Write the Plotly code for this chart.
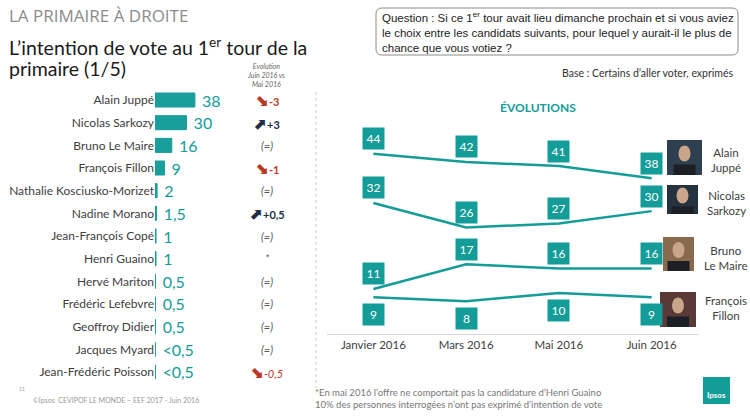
import plotly.graph_objects as go

# intentions de vote 1er tour primaire droite - juin 2016
candidats = ["Alain Juppé", "Nicolas Sarkozy", "Bruno Le Maire", "François Fillon",
             "Nathalie Kosciusko-Morizet", "Nadine Morano", "Jean-François Copé",
             "Henri Guaino", "Hervé Mariton", "Frédéric Lefebvre", "Geoffroy Didier",
             "Jacques Myard", "Jean-Frédéric Poisson"]
intentions = [38, 30, 16, 9, 2, 1.5, 1, 1, 0.5, 0.5, 0.5, 0.3, 0.3]
intentions_txt = ["38", "30", "16", "9", "2", "1,5", "1", "1", "0,5", "0,5", "0,5", "<0,5", "<0,5"]
evolution_txt = ["-3", "+3", "(=)", "-1", "(=)", "+0,5", "(=)", "*", "(=)", "(=)", "(=)", "(=)", "-0,5"]

# evolutions
mois = ["Janvier 2016", "Mars 2016", "Mai 2016", "Juin 2016"]
juppe = [44, 42, 41, 38]
sarkozy = [32, 26, 27, 30]
le_maire = [11, 17, 16, 16]
fillon = [9, 8, 10, 9]

TEAL = "#149c99"
GREY = "#404040"
W, H = 750, 417


def px(x):
    return x / W


def py(y):
    return 1 - y / H


fig = go.Figure()

rows = list(range(len(candidats)))
fig.add_trace(go.Bar(
    x=intentions, y=rows, orientation="h",
    marker=dict(color="#1a9e9c", line=dict(color="#1a9e9c", width=1)),
    width=0.62,
    text=["\u00a0" + t for t in intentions_txt], textposition="outside",
    cliponaxis=False, constraintext="none",
    textfont=dict(family="Lato", size=16, color=TEAL),
    xaxis="x", yaxis="y", showlegend=False, hoverinfo="skip"
))

series = [("Alain Juppé", juppe, 15), ("Nicolas Sarkozy", sarkozy, 15),
          ("Bruno Le Maire", le_maire, 15), ("François Fillon", fillon, -17)]
for nom, vals, dy in series:
    fig.add_trace(go.Scatter(
        x=list(range(len(mois))), y=vals, mode="lines",
        line=dict(color=TEAL, width=2.5),
        xaxis="x2", yaxis="y2", showlegend=False, name=nom
    ))

annotations = []
shapes = []

# boites des valeurs sur les courbes
for nom, vals, dy in series:
    for i, v in enumerate(vals):
        annotations.append(dict(
            x=i, y=v, xref="x2", yref="y2", text=str(v),
            yshift=dy, width=19, height=19, bgcolor=TEAL,
            font=dict(family="Lato", size=12, color="white")
        ))

# colonne evolution
baisse = "<span style='font-size:15px'>⬊</span>"
hausse = "<span style='font-size:15px'>⬈</span>"
for i, t in enumerate(evolution_txt):
    if t.startswith("-"):
        txt = "<b>" + baisse + t + "</b>"
        if i == len(evolution_txt) - 1:
            txt = "<b>" + baisse + "</b><i>" + t + "</i>"
        col = "#b83a26"
    elif t.startswith("+"):
        txt = "<b>" + hausse + t + "</b>"
        col = "#1f2d45"
    else:
        txt = "<i>" + t + "</i>"
        col = "#555555"
    annotations.append(dict(x=px(267), y=i, xref="paper", yref="y", text=txt,
                            font=dict(family="Lato", size=11, color=col)))

annotations.append(dict(x=px(266), y=py(75), text="<i>Evolution<br>Juin 2016 vs<br>Mai 2016</i>",
                        font=dict(family="Lato", size=7, color="#666666")))

# titres
annotations += [
    dict(x=px(7), y=py(16), text="LA PRIMAIRE À DROITE", xanchor="left",
         font=dict(family="Open Sans", size=17, color="#8c8c8c")),
    dict(x=px(7), y=py(47), text="L’intention de vote au 1<sup>er</sup> tour de la", xanchor="left",
         font=dict(family="Lato", size=19.5, color="#1a1a1a")),
    dict(x=px(7), y=py(69), text="primaire (1/5)", xanchor="left",
         font=dict(family="Lato", size=19.5, color="#1a1a1a")),
    dict(x=px(380), y=py(32), xanchor="left", align="left",
         text="Question : Si ce 1<sup>er</sup> tour avait lieu dimanche prochain et si vous aviez<br>"
              "le choix entre les candidats suivants, pour lequel y aurait-il le plus de<br>"
              "chance que vous votiez ?",
         font=dict(family="Liberation Sans", size=11.5, color="#222222")),
    dict(x=px(735), y=py(73), xanchor="right", text="Base : Certains d’aller voter, exprimés",
         font=dict(family="Lato", size=10.5, color="#333333")),
    dict(x=px(538), y=py(108), text="<b>ÉVOLUTIONS</b>",
         font=dict(family="Lato", size=12, color=TEAL)),
    dict(x=px(313), y=py(398), xanchor="left", align="left",
         text="*En mai 2016 l’offre ne comportait pas la candidature d’Henri Guaino<br>"
              "10% des personnes interrogées n’ont pas exprimé d’intention de vote",
         font=dict(family="Lato", size=9.5, color="#777777")),
    dict(x=px(31), y=py(400), xanchor="left",
         text="©Ipsos  CEVIPOF LE MONDE – EEF 2017 - Juin 2016",
         font=dict(family="Lato", size=7, color="#999999")),
    dict(x=px(17), y=py(389), xanchor="left", text="11",
         font=dict(family="Lato", size=5, color="#999999")),
    dict(x=px(716.5), y=py(395), text="<b>Ipsos</b>",
         font=dict(family="Lato", size=8, color="white")),
]

# noms a cote des photos
for nom, y in [("Alain<br>Juppé", 160), ("Nicolas<br>Sarkozy", 203),
               ("Bruno<br>Le Maire", 258), ("François<br>Fillon", 308)]:
    annotations.append(dict(x=px(726), y=py(y), text=nom,
                            font=dict(family="Lato", size=11.5, color=GREY)))

for a in annotations:
    a.setdefault("xref", "paper")
    a.setdefault("yref", "paper")
    a.setdefault("xanchor", "center")
    a.setdefault("yanchor", "middle")
    a["showarrow"] = False

# photos (simples aplats)
photos = [(667, 140, 702, 175, "#2e3f4f"), (667, 185, 698, 214, "#27323f"),
          (663, 237, 694, 271, "#8a6a4c"), (660, 292, 696, 327, "#5a3a36")]
for x0, y0, x1, y1, c in photos:
    shapes.append(dict(type="rect", xref="paper", yref="paper", x0=px(x0), x1=px(x1),
                       y0=py(y1), y1=py(y0), fillcolor=c, line=dict(width=0)))
    cx, cy = (x0 + x1) / 2, (y0 + y1) / 2
    shapes.append(dict(type="circle", xref="paper", yref="paper", x0=px(cx - 6), x1=px(cx + 6),
                       y0=py(cy + 4), y1=py(cy - 12), fillcolor="#c9a58c", line=dict(width=0)))
    shapes.append(dict(type="rect", xref="paper", yref="paper", x0=px(cx - 11), x1=px(cx + 11),
                       y0=py(y1), y1=py(cy + 7), fillcolor="#1c1f26", line=dict(width=0)))

# boite question
x0, x1, y0, y1, r = 376, 738, 8, 55, 6
path = (f"M {px(x0 + r)},{py(y0)} L {px(x1 - r)},{py(y0)} Q {px(x1)},{py(y0)} {px(x1)},{py(y0 + r)} "
        f"L {px(x1)},{py(y1 - r)} Q {px(x1)},{py(y1)} {px(x1 - r)},{py(y1)} "
        f"L {px(x0 + r)},{py(y1)} Q {px(x0)},{py(y1)} {px(x0)},{py(y1 - r)} "
        f"L {px(x0)},{py(y0 + r)} Q {px(x0)},{py(y0)} {px(x0 + r)},{py(y0)} Z")
shapes.append(dict(type="path", xref="paper", yref="paper", path=path,
                   line=dict(color="#8a8a8a", width=1)))

# separateur pointille
shapes.append(dict(type="line", xref="paper", yref="paper", x0=px(316), x1=px(316),
                   y0=py(92), y1=py(388), line=dict(color="#c8c8c8", width=1, dash="dot")))

# logo ipsos
shapes.append(dict(type="rect", xref="paper", yref="paper", x0=px(703), x1=px(730),
                   y0=py(404), y1=py(377), fillcolor=TEAL, line=dict(width=0)))

fig.update_layout(
    width=W, height=H, margin=dict(l=0, r=0, t=0, b=0),
    paper_bgcolor="white", plot_bgcolor="white",
    font=dict(family="Lato", color=GREY),
    xaxis=dict(domain=[px(155), px(260)], range=[0, 100], visible=False),
    yaxis=dict(domain=[py(383.3), py(88.7)], range=[12.5, -0.5],
               tickvals=rows, ticktext=candidats, showgrid=False, zeroline=False,
               ticks="", tickfont=dict(family="Lato", size=12, color=GREY)),
    xaxis2=dict(domain=[px(327), px(698)], range=[-0.5, 3.5], anchor="y2",
                tickvals=list(range(len(mois))), ticktext=mois, showgrid=False,
                zeroline=False, showline=True, linecolor="#d6d6d6", linewidth=1,
                ticks="", tickfont=dict(family="Lato", size=11.5, color=GREY)),
    yaxis2=dict(domain=[py(334), py(121)], range=[0, 52], visible=False),
    annotations=annotations, shapes=shapes,
)

fig.write_html("out.html", config={"displayModeBar": False},
               post_script="document.body.style.margin='0';")
